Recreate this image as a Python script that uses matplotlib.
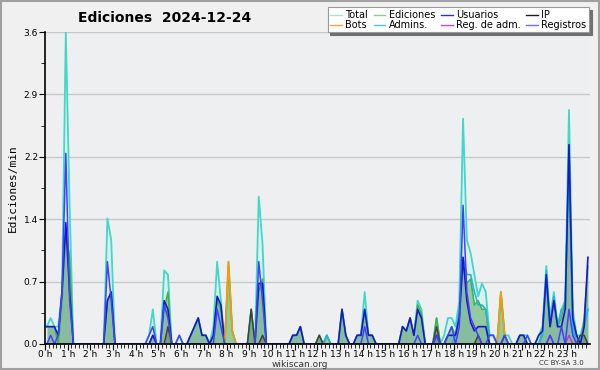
import matplotlib
matplotlib.use("Agg")
import matplotlib.pyplot as plt
import numpy as np
from matplotlib.lines import Line2D
from matplotlib.patches import Rectangle

# Edits per minute in 10-minute bins (144 bins)
total = [
    0.2, 0.3, 0.2, 0.2, 0.6, 3.6, 1.6, 0, 0, 0, 0, 0,
    0, 0, 0, 0, 1.45, 1.2, 0, 0, 0, 0, 0, 0,
    0, 0, 0, 0.1, 0.4, 0, 0, 0.85, 0.8, 0, 0, 0.1,
    0, 0, 0.1, 0.2, 0.3, 0.1, 0.1, 0, 0.2, 0.95, 0.5, 0,
    0.95, 0.15, 0, 0, 0, 0, 0.4, 0, 1.7, 1.15, 0, 0,
    0, 0, 0, 0, 0, 0.1, 0.1, 0.2, 0, 0, 0, 0,
    0.1, 0, 0.1, 0, 0, 0, 0.4, 0.1, 0, 0, 0.1, 0.1,
    0.6, 0.1, 0.1, 0, 0, 0, 0, 0, 0, 0, 0.2, 0.15,
    0.3, 0.1, 0.5, 0.4, 0, 0, 0, 0.3, 0, 0.1, 0.3, 0.3,
    0.2, 0.5, 2.6, 1.2, 1.05, 0.8, 0.55, 0.7, 0.6, 0.1, 0.1, 0,
    0.6, 0.1, 0.1, 0, 0, 0.1, 0.1, 0.1, 0, 0, 0.1, 0.2,
    0.9, 0.3, 0.6, 0.2, 0.4, 0.5, 2.7, 0.4, 0.1, 0.1, 0.25, 0.4,
]
ediciones = [
    0.2, 0.2, 0.2, 0, 0.5, 1.3, 1.0, 0, 0, 0, 0, 0,
    0, 0, 0, 0, 0.5, 0.6, 0, 0, 0, 0, 0, 0,
    0, 0, 0, 0, 0.1, 0, 0, 0.4, 0.6, 0, 0, 0,
    0, 0, 0.1, 0.2, 0.3, 0.1, 0.1, 0, 0.1, 0.5, 0.4, 0,
    0.9, 0.15, 0, 0, 0, 0, 0.4, 0, 0.6, 0.75, 0, 0,
    0, 0, 0, 0, 0, 0.1, 0.1, 0.2, 0, 0, 0, 0,
    0.1, 0, 0.1, 0, 0, 0, 0.4, 0.1, 0, 0, 0.1, 0.1,
    0.4, 0.1, 0.1, 0, 0, 0, 0, 0, 0, 0, 0.2, 0.15,
    0.3, 0.1, 0.45, 0.35, 0, 0, 0, 0.3, 0, 0, 0.1, 0.2,
    0.1, 0.3, 0.9, 0.7, 0.75, 0.45, 0.5, 0.4, 0.4, 0, 0, 0,
    0.6, 0.1, 0, 0, 0, 0.1, 0.1, 0, 0, 0, 0, 0.15,
    0.7, 0.2, 0.5, 0.2, 0.3, 0.5, 2.1, 0.3, 0.1, 0, 0.3, 0.9,
]
usuarios = [
    0.2, 0.2, 0.2, 0.1, 0.6, 1.4, 0.6, 0, 0, 0, 0, 0,
    0, 0, 0, 0, 0.5, 0.6, 0, 0, 0, 0, 0, 0,
    0, 0, 0, 0, 0.1, 0, 0, 0.5, 0.4, 0, 0, 0,
    0, 0, 0.1, 0.2, 0.3, 0.1, 0.1, 0, 0.1, 0.55, 0.45, 0,
    0, 0, 0, 0, 0, 0, 0, 0, 0.7, 0.7, 0, 0,
    0, 0, 0, 0, 0, 0.1, 0.1, 0.2, 0, 0, 0, 0,
    0, 0, 0, 0, 0, 0, 0.4, 0.1, 0, 0, 0.1, 0.1,
    0.4, 0.1, 0.1, 0, 0, 0, 0, 0, 0, 0, 0.2, 0.15,
    0.3, 0.1, 0.4, 0.3, 0, 0, 0, 0.1, 0, 0, 0.1, 0.1,
    0.1, 0.3, 1.0, 0.5, 0.25, 0.15, 0.2, 0.2, 0.2, 0, 0, 0,
    0, 0.1, 0, 0, 0, 0.1, 0.1, 0, 0, 0, 0.1, 0.15,
    0.8, 0.2, 0.5, 0.2, 0.2, 0.4, 2.3, 0.3, 0.1, 0, 0.2, 1.0,
]
ip = [
    0, 0, 0, 0, 0, 0, 0, 0, 0, 0, 0, 0,
    0, 0, 0, 0, 0, 0, 0, 0, 0, 0, 0, 0,
    0, 0, 0, 0, 0, 0, 0, 0, 0.2, 0, 0, 0,
    0, 0, 0, 0, 0, 0, 0, 0, 0, 0, 0, 0,
    0, 0, 0, 0, 0, 0, 0.4, 0, 0, 0.1, 0, 0,
    0, 0, 0, 0, 0, 0, 0, 0, 0, 0, 0, 0,
    0.1, 0, 0, 0, 0, 0, 0, 0, 0, 0, 0, 0,
    0, 0, 0, 0, 0, 0, 0, 0, 0, 0, 0, 0,
    0, 0, 0, 0, 0, 0, 0, 0.2, 0, 0, 0, 0,
    0, 0, 0, 0, 0, 0, 0.1, 0, 0, 0, 0, 0,
    0, 0, 0, 0, 0, 0, 0, 0, 0, 0, 0, 0,
    0, 0, 0, 0, 0, 0, 0, 0, 0, 0.1, 0.1, 0,
]
bots = [
    0, 0, 0, 0, 0, 0, 0, 0, 0, 0, 0, 0,
    0, 0, 0, 0, 0, 0, 0, 0, 0, 0, 0, 0,
    0, 0, 0, 0, 0, 0, 0, 0, 0, 0, 0, 0,
    0, 0, 0, 0, 0, 0, 0, 0, 0, 0, 0, 0,
    0.95, 0.15, 0, 0, 0, 0, 0, 0, 0, 0, 0, 0,
    0, 0, 0, 0, 0, 0, 0, 0, 0, 0, 0, 0,
    0, 0, 0, 0, 0, 0, 0, 0, 0, 0, 0, 0,
    0, 0, 0, 0, 0, 0, 0, 0, 0, 0, 0, 0,
    0, 0, 0, 0, 0, 0, 0, 0, 0, 0, 0, 0,
    0, 0, 0, 0, 0, 0, 0, 0, 0, 0, 0, 0,
    0.6, 0.1, 0, 0, 0, 0, 0, 0, 0, 0, 0, 0,
    0, 0, 0, 0, 0, 0, 0, 0, 0, 0, 0, 0,
]
admins = [
    0, 0, 0, 0, 0, 0, 0, 0, 0, 0, 0, 0,
    0, 0, 0, 0, 0, 0, 0, 0, 0, 0, 0, 0,
    0, 0, 0, 0, 0, 0, 0, 0, 0, 0, 0, 0,
    0, 0, 0, 0, 0, 0, 0, 0, 0, 0, 0, 0,
    0, 0, 0, 0, 0, 0, 0, 0, 0, 0, 0, 0,
    0, 0, 0, 0, 0, 0, 0, 0, 0, 0, 0, 0,
    0, 0, 0.1, 0, 0, 0, 0, 0, 0, 0, 0, 0,
    0, 0, 0, 0, 0, 0, 0, 0, 0, 0, 0, 0,
    0, 0, 0, 0, 0, 0, 0, 0, 0, 0, 0, 0,
    0.1, 0.4, 1.0, 0.8, 0.8, 0.6, 0.45, 0.45, 0.4, 0.1, 0.1, 0,
    0, 0, 0, 0, 0, 0, 0, 0, 0, 0, 0, 0.1,
    0.85, 0.2, 0.55, 0.2, 0.4, 0.4, 2.3, 0.2, 0, 0, 0.2, 0.4,
]
reg_adm = [0] * 133 + [0.1, 0, 0, 0, 0, 0.1, 0, 0, 0, 0, 0]
registros = [
    0, 0.1, 0, 0.1, 0.6, 2.2, 0.5, 0, 0, 0, 0, 0,
    0, 0, 0, 0, 0.95, 0.5, 0, 0, 0, 0, 0, 0,
    0, 0, 0, 0.1, 0.2, 0, 0, 0.45, 0.3, 0, 0, 0.1,
    0, 0, 0, 0, 0, 0, 0, 0, 0, 0.4, 0.2, 0,
    0, 0, 0, 0, 0, 0, 0, 0, 0.95, 0.5, 0, 0,
    0, 0, 0, 0, 0, 0, 0, 0, 0, 0, 0, 0,
    0, 0, 0, 0, 0, 0, 0, 0, 0, 0, 0, 0,
    0.2, 0, 0, 0, 0, 0, 0, 0, 0, 0, 0, 0,
    0, 0, 0.1, 0, 0, 0, 0, 0.1, 0, 0, 0.1, 0.2,
    0, 0.2, 1.6, 0.6, 0.3, 0.2, 0.1, 0, 0, 0.1, 0.1, 0,
    0, 0.1, 0, 0, 0, 0, 0, 0.1, 0, 0, 0, 0,
    0, 0.1, 0, 0, 0.2, 0, 0.4, 0.1, 0, 0, 0, 0,
]

hours = [f"{h} h" for h in range(24)]
ytick_vals = [0, 0.72, 1.44, 2.16, 2.88, 3.6]

x = (np.arange(len(total)) + 0.5) / 6.0

fig = plt.figure(figsize=(6, 3.7), dpi=100, facecolor="#f0f0f0")
ax = fig.add_axes([0.075, 0.0703, 0.908, 0.8432])
ax.set_facecolor("#eeeff1")

# fills
ax.fill_between(x, total, color="#dcf2ef", alpha=0.95, lw=0)
ax.fill_between(x, ediciones, color="#8cc795", alpha=0.9, lw=0)
ax.fill_between(x, usuarios, color="#3a6fa0", alpha=0.15, lw=0)
ax.fill_between(x, ip, color="#404040", alpha=0.25, lw=0)

# lines
ax.plot(x, total, color="#40d8c8", lw=1.3)
ax.plot(x, ediciones, color="#44b044", lw=1.1)
ax.plot(x, admins, color="#22b4dc", lw=1.2)
ax.plot(x, usuarios, color="#1818c8", lw=1.2)
ax.plot(x, ip, color="#404040", lw=1.1)
ax.plot(x, bots, color="#ff9900", lw=1.2)
ax.plot(x, reg_adm, color="#cc33cc", lw=1.1)
ax.plot(x, registros, color="#4040ff", lw=1.1)

ax.set_xlim(0, 24)
ax.set_ylim(0, 3.6)
ax.set_xticks(range(24))
ax.set_xticklabels(hours, fontsize=6.5)
ax.set_xticks(np.arange(0, 24, 1 / 6), minor=True)
ax.set_yticks(ytick_vals)
ax.set_yticklabels([f"{v:.1f}" for v in ytick_vals], fontsize=6.5)
ax.set_yticks(np.arange(0.36, 3.6, 0.72), minor=True)
ax.tick_params(axis="x", which="major", length=4, pad=0.5)
ax.tick_params(axis="x", which="minor", length=3)
ax.tick_params(axis="y", which="major", length=4, pad=1)
ax.tick_params(axis="y", which="minor", length=3)
ax.grid(axis="y", which="major", color="#c8c8c8", lw=1)
ax.set_axisbelow(True)
for s in ["top", "right"]:
    ax.spines[s].set_visible(False)
ax.spines["left"].set_linewidth(1.2)
ax.spines["bottom"].set_linewidth(1.2)

ax.set_ylabel("Ediciones/min", fontsize=8, family="DejaVu Sans Mono", labelpad=4)

fig.text(0.275, 0.952, "Ediciones  2024-12-24", fontsize=10, fontweight="bold",
         ha="center", va="center")
fig.text(0.5, 0.016, "wikiscan.org", fontsize=6.5, ha="center", va="center", color="#333333")
fig.text(0.935, 0.018, "CC BY-SA 3.0", fontsize=5, ha="center", va="center", color="#333333")

# legend (matplotlib fills by column, so interleave the two rows)
names = ["Total", "Bots", "Ediciones", "Admins.", "Usuarios", "Reg. de adm.", "IP", "Registros"]
colors = ["#a8e0e0", "#ffa040", "#88d088", "#44c8dc", "#3030d0", "#cc44dd", "#202020", "#7070f0"]
handles = [Line2D([], [], color=c, lw=1) for c in colors]
leg = fig.legend(handles, names, ncol=4, loc="upper right", bbox_to_anchor=(0.985, 0.985),
                 fontsize=7, frameon=True, fancybox=False, shadow={"color": "#707070", "alpha": 1},
                 handlelength=1.2, handletextpad=0.35, columnspacing=0.6, labelspacing=0.0,
                 borderpad=0.25, borderaxespad=0.2)
leg.get_frame().set_edgecolor("#999999")
leg.get_frame().set_linewidth(0.8)

fig.patches.append(Rectangle((0.002, 0.003), 0.996, 0.994, transform=fig.transFigure,
                             fill=False, edgecolor="#a0a0a0", lw=1.5))

fig.savefig("out.png", dpi=100, facecolor=fig.get_facecolor())
